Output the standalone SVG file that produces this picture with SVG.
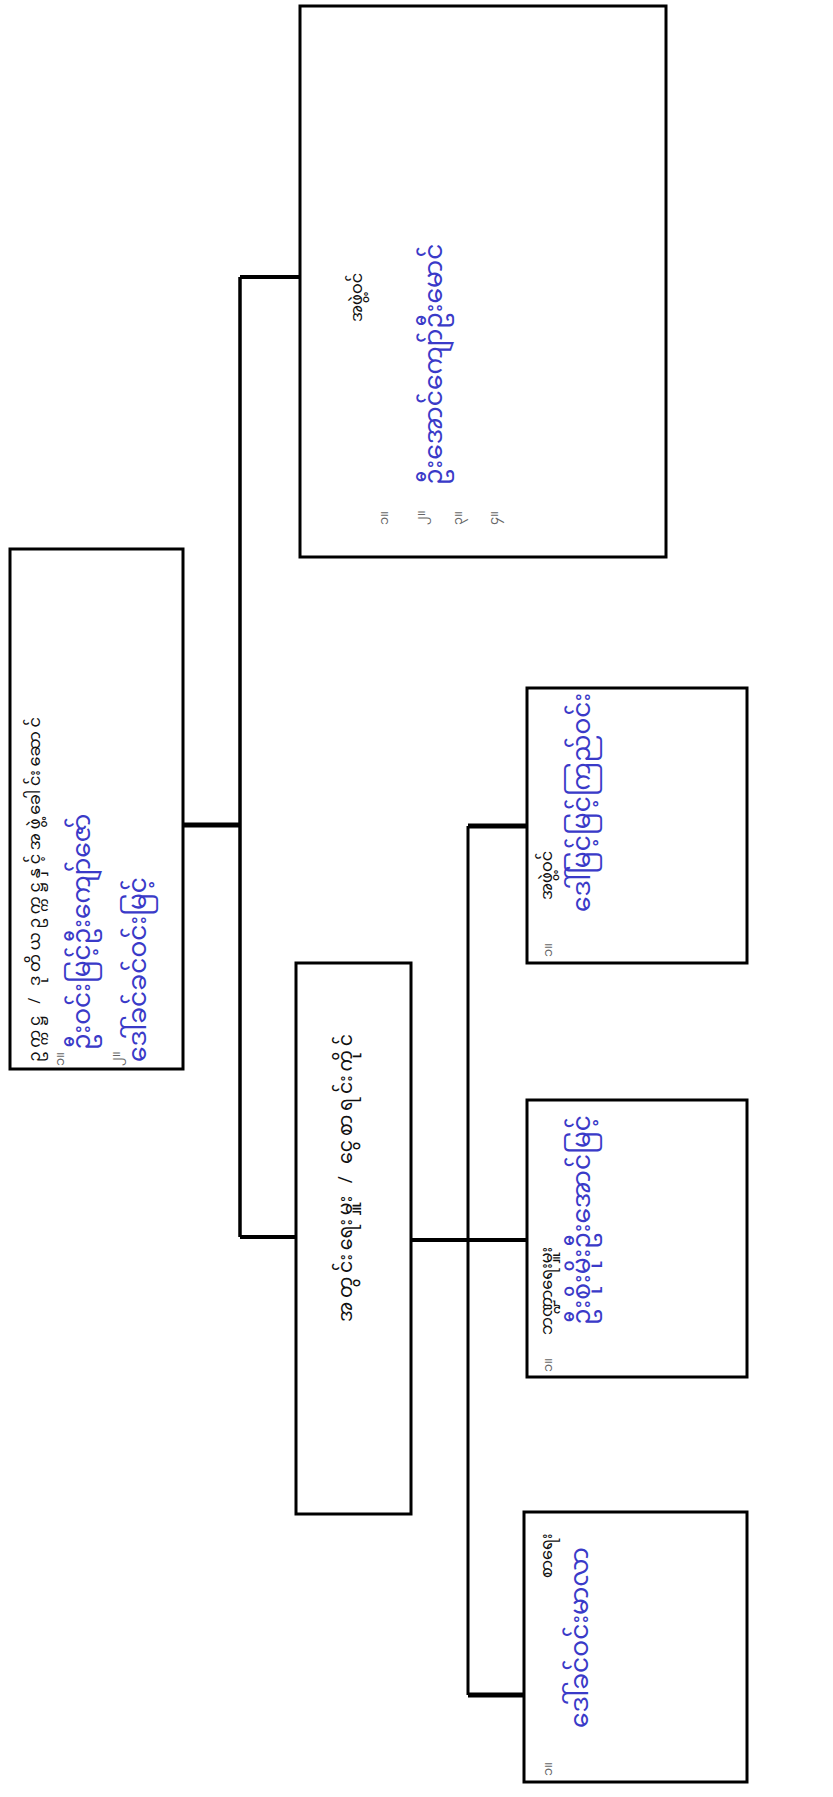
<svg xmlns="http://www.w3.org/2000/svg" width="833" height="1797" viewBox="0 0 833 1797">
<style>
.box{fill:#fff;stroke:#000;stroke-width:3}
.c{stroke:#000;fill:none}
.pt{font-family:"Noto Sans Myanmar","Padauk","Myanmar Text","Noto Sans",sans-serif;font-size:16px;fill:#111}
.hw{font-family:"Noto Sans Myanmar","Padauk","Myanmar Text","Noto Sans",sans-serif;font-size:25px;fill:#3a3ac8}
.num{font-family:"Noto Sans Myanmar","Padauk","Myanmar Text","Noto Sans",sans-serif;font-size:13px;fill:#666}
</style>
<rect width="833" height="1797" fill="#fff"/>
<g id="connectors">
<path class="c" d="M183 825H240" stroke-width="5"/>
<path class="c" d="M240 277V1237" stroke-width="3.5"/>
<path class="c" d="M240 277H300" stroke-width="4"/>
<path class="c" d="M240 1237H296" stroke-width="4"/>
<path class="c" d="M411 1240H527" stroke-width="4"/>
<path class="c" d="M468 826V1695" stroke-width="3"/>
<path class="c" d="M468 826H527" stroke-width="5"/>
<path class="c" d="M468 1695H524" stroke-width="5"/>
</g>
<g id="root">
<rect class="box" x="10" y="549" width="173" height="520"/>
<text class="pt" transform="translate(40 1062) rotate(-90)" textLength="345">ဥက္ကဋ္ဌ / ဒုတိယဥက္ကဋ္ဌနှင့်အဖွဲ့ခေါင်းဆောင်</text>
<text class="num" transform="translate(64 1066) rotate(-90)">၁။</text>
<text class="hw" transform="translate(90 1050) rotate(-90)">ဦးဝင်းမြင့်ဦးကျော်ဇော်</text>
<text class="num" transform="translate(120 1066) rotate(-90)">၂။</text>
<text class="hw" transform="translate(146 1062) rotate(-90)">ဒေါ်ခင်ခင်ဝင်းမြင့်</text>
</g>
<g id="members">
<rect class="box" x="300" y="6" width="366" height="551"/>
<text class="pt" transform="translate(362 322) rotate(-90)">အဖွဲ့ဝင်</text>
<text class="num" transform="translate(388 525) rotate(-90)">၁။</text>
<text class="hw" transform="translate(442 485) rotate(-90)">ဦးအောင်ကျော်ဦးမောင်</text>
<text class="num" transform="translate(425 525) rotate(-90)">၂။</text>
<text class="num" transform="translate(462 525) rotate(-90)">၃။</text>
<text class="num" transform="translate(498 525) rotate(-90)">၄။</text>
</g>
<g id="secretary">
<rect class="box" x="296" y="963" width="115" height="551"/>
<text class="pt" style="font-size:19px" transform="translate(352 1322) rotate(-90)" textLength="288">အတွင်းရေးမှူး / ငွေစာရင်းကိုင်</text>
</g>
<g id="member2">
<rect class="box" x="527" y="688" width="220" height="275"/>
<text class="pt" transform="translate(552 900) rotate(-90)">အဖွဲ့ဝင်</text>
<text class="num" transform="translate(552 957) rotate(-90)">၁။</text>
<text class="hw" transform="translate(590 912) rotate(-90)">ဒေါ်မြင့်မြင့်ကြည်ဝင်း</text>
</g>
<g id="treasurer">
<rect class="box" x="527" y="1100" width="220" height="277"/>
<text class="pt" transform="translate(552 1335) rotate(-90)">ဘဏ္ဍာရေးမှူး</text>
<text class="num" transform="translate(552 1372) rotate(-90)">၁။</text>
<text class="hw" transform="translate(590 1325) rotate(-90)">ဦးစိုးမိုးဦးအောင်မြင့်</text>
</g>
<g id="auditor">
<rect class="box" x="524" y="1512" width="223" height="270"/>
<text class="pt" transform="translate(552 1578) rotate(-90)">စာရေး</text>
<text class="num" transform="translate(552 1776) rotate(-90)">၁။</text>
<text class="hw" transform="translate(588 1728) rotate(-90)">ဒေါ်ခင်ဝင်းမာလာ</text>
</g>
</svg>
